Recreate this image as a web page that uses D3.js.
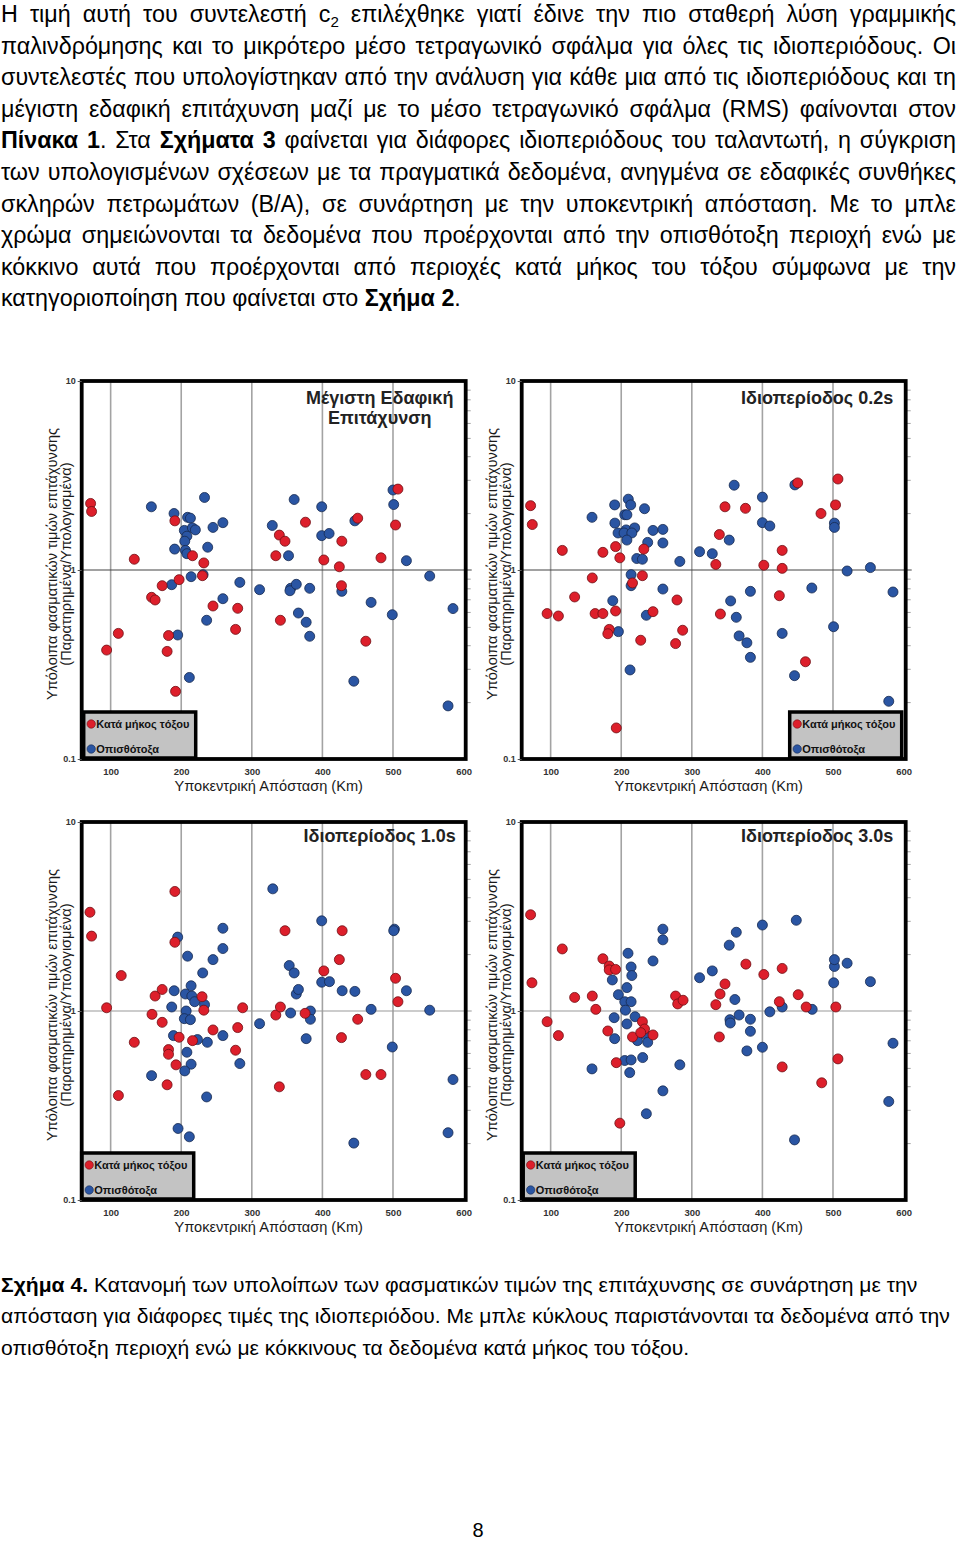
<!DOCTYPE html>
<html><head><meta charset="utf-8">
<script src="https://cdn.jsdelivr.net/npm/d3@7/dist/d3.min.js"></script>
<style>
body{margin:0;background:#fff;}
svg{display:block;font-family:"Liberation Sans",Arial,sans-serif;}
</style></head><body>
<svg id="page" width="960" height="1543"></svg>
<script>
// ---------- DATA ----------
const paragraphLines = [
  "Η τιμή αυτή του συντελεστή c₂ επιλέχθηκε γιατί έδινε την πιο σταθερή λύση γραμμικής",
  "παλινδρόμησης και το μικρότερο μέσο τετραγωνικό σφάλμα για όλες τις ιδιοπεριόδους. Οι",
  "συντελεστές που υπολογίστηκαν από την ανάλυση για κάθε μια από τις ιδιοπεριόδους και τη",
  "μέγιστη εδαφική επιτάχυνση μαζί με το μέσο τετραγωνικό σφάλμα (RMS) φαίνονται στον",
  "**Πίνακα 1**. Στα **Σχήματα 3** φαίνεται για διάφορες ιδιοπεριόδους του ταλαντωτή, η σύγκριση",
  "των υπολογισμένων σχέσεων με τα πραγματικά δεδομένα, ανηγμένα σε εδαφικές συνθήκες",
  "σκληρών πετρωμάτων (Β/Α), σε συνάρτηση με την υποκεντρική απόσταση. Με το μπλε",
  "χρώμα σημειώνονται τα δεδομένα που προέρχονται από την οπισθότοξη περιοχή ενώ με",
  "κόκκινο αυτά που προέρχονται από περιοχές κατά μήκος του τόξου σύμφωνα με την",
  "κατηγοριοποίηση που φαίνεται στο **Σχήμα 2**."
];
const captionLines = [
  "**Σχήμα 4.** Κατανομή των υπολοίπων των φασματικών τιμών της επιτάχυνσης σε συνάρτηση με την",
  "απόσταση για διάφορες τιμές της ιδιοπεριόδου. Με μπλε κύκλους παριστάνονται τα δεδομένα από την",
  "οπισθότοξη περιοχή ενώ με κόκκινους τα δεδομένα κατά μήκος του τόξου."
];
const pageNumber = "8";

const xTicks = [100, 200, 300, 400, 500, 600];
const yTicks = [0.1, 1, 10];
const yMinor = [0.2,0.3,0.4,0.5,0.6,0.7,0.8,0.9,2,3,4,5,6,7,8,9];
const xDomain = [59, 603];
const yDomain = [0.1, 10];
const xTitle = "Υποκεντρική Απόσταση (Km)";
const yTitle1 = "Υπόλοιπα φασματικών τιμών επιτάχυνσης";
const yTitle2 = "(Παρατηρημένα/Υπολογισμένα)";
const legendArc = "Κατά μήκος τόξου";
const legendBack = "Οπισθότοξα";

const panelTitles = [
  ["Μέγιστη Εδαφική", "Επιτάχυνση"],
  ["Ιδιοπερίοδος 0.2s"],
  ["Ιδιοπερίοδος 1.0s"],
  ["Ιδιοπερίοδος 3.0s"]
];

// [distance km, residual]
const pgaArc = [[71.6,2.25],[73,2.04],[133.5,1.14],[110.9,0.462],[94.3,0.377],[158,0.717],[163,0.694],[173,0.826],[191,1.82],[182,0.45],[180,0.371],[192,0.228],[197,0.889],[216,1.19],[232,1.09],[230,0.933],[245,0.645],[280,0.627],[277,0.485],[334,1.19],[339,1.53],[347,1.42],[340.5,0.542],[376,1.79],[402,1.13],[424,1.04],[427.5,1.42],[427,0.826],[450,1.88],[461.5,0.42],[483,1.16],[503.6,1.73],[507,2.68]];
const pgaBack = [[157.7,2.16],[189.8,1.99],[209,1.9],[213,1.88],[233,2.42],[204.4,1.62],[215.8,1.67],[220,1.63],[208,1.51],[205,1.42],[206,1.27],[208,1.22],[190.7,1.29],[237.5,1.32],[245,1.68],[259,1.78],[186.5,0.836],[214,0.922],[231,0.945],[195,0.453],[211.5,0.27],[236,0.542],[259,0.705],[283,0.86],[311,0.787],[329,1.72],[352,1.19],[355,0.8],[354,0.777],[363,0.84],[360,2.36],[382,0.8],[366,0.592],[377,0.529],[382,0.446],[399,2.16],[399,1.52],[409.5,1.56],[427.5,0.771],[446,1.82],[444.5,0.258],[469,0.674],[499,0.58],[500,2.65],[501,2.22],[519,1.12],[552,0.929],[585,0.625],[578,0.191]];

const t02Arc = [[71.6,2.19],[74,1.74],[116.5,1.27],[134,0.72],[95,0.588],[111,0.571],[159,0.908],[163,0.588],[174,0.588],[174,1.24],[192,1.33],[198,1.16],[192,0.607],[183,0.485],[181,0.46],[193,0.146],[216,0.854],[230,0.933],[232,1.29],[245,0.602],[227.6,0.425],[279,0.694],[287,0.48],[277,0.408],[334,1.07],[339,1.54],[347,2.16],[340.5,0.585],[376,2.12],[402,1.06],[428,1.27],[428,1.02],[424,0.731],[450,2.89],[461,0.327],[483,1.99],[503.6,2.21],[507,3.03]];
const t02Back = [[158.6,1.9],[190.7,2.21],[210,2.37],[213.4,2.21],[233,2.11],[205,1.96],[208,1.96],[191,1.77],[207,1.63],[219,1.67],[195.5,1.57],[204,1.57],[215,1.57],[208,1.44],[237.5,1.4],[245,1.62],[259,1.64],[259,1.39],[222,1.15],[230,1.14],[214,0.945],[214,0.826],[188,0.688],[196,0.472],[235.6,0.576],[212.5,0.296],[259,0.793],[283,1.11],[311,1.25],[329,1.22],[353,1.44],[360,2.81],[355,0.686],[363,0.562],[367,0.448],[378,0.412],[383,0.771],[383,0.345],[400,2.43],[400,1.78],[410.5,1.71],[428,0.462],[446,2.82],[445.5,0.276],[470,0.803],[500.8,0.501],[502,1.77],[502,1.68],[520,0.988],[553,1.03],[585,0.765],[579,0.202]];

const t10Arc = [[70.7,3.33],[73,2.49],[115,1.54],[94.3,1.04],[133.5,0.683],[111,0.357],[158.6,0.96],[163,1.2],[173,1.3],[173,0.871],[191,4.29],[191,2.31],[182,0.625],[182,0.59],[180,0.407],[192.6,0.519],[197,0.726],[216,0.697],[229.5,1.19],[232,1.01],[245,0.794],[280,0.817],[287,1.04],[277,0.62],[334,0.952],[340.5,1.05],[339,0.397],[347,2.66],[375.5,0.972],[402,1.63],[424,1.87],[428,2.66],[427,0.723],[450,0.904],[461.5,0.461],[483,0.461],[503.6,1.49],[507,1.12]];
const t10Back = [[158,0.455],[190,1.28],[186.5,1.05],[189,0.741],[195,2.46],[209,1.95],[214,1.36],[206,1.23],[215,1.2],[219,1.12],[207,1.0],[204.4,0.911],[213,0.9],[223,0.706],[208,0.605],[214,0.523],[205,0.482],[195.5,0.239],[211.5,0.216],[230.4,1.59],[233,1.08],[245,1.87],[259,2.74],[259,2.14],[237,0.683],[259,0.741],[236,0.351],[283,0.527],[311,0.857],[329.7,4.43],[353,1.74],[360,1.59],[363,1.23],[366,1.3],[355,0.976],[377,0.714],[383,1.0],[383,0.904],[399,3.0],[399,1.42],[410,1.43],[428,1.28],[446,1.27],[444.5,0.2],[469,1.02],[499,0.645],[502,2.71],[501,2.66],[519,1.28],[552,1.01],[585,0.434],[578,0.227]];

const t30Arc = [[71.6,3.23],[73.5,1.41],[116.5,2.13],[95,0.878],[111,0.741],[134,1.18],[159,1.2],[164,1.02],[174,1.89],[183,1.73],[183,1.65],[192,1.66],[181,0.784],[193,0.533],[198,0.255],[216,0.729],[230,0.878],[233,0.803],[227.6,0.768],[245,0.747],[277,1.2],[280,1.09],[287.6,1.14],[334,1.08],[340,1.23],[339,0.729],[347,1.39],[376.6,1.77],[402,1.56],[424,1.12],[428,1.68],[428,0.506],[450.7,1.22],[462,1.05],[484,0.417],[504,1.05],[507,0.558]];
const t30Back = [[158.6,0.494],[187.4,1.46],[190.7,0.714],[190,0.922],[196,1.22],[209.6,2.02],[214,1.71],[215,1.54],[208,1.33],[205,1.12],[214,1.12],[206,1.01],[208,0.854],[219.6,0.933],[223,0.697],[205,0.547],[214,0.551],[212,0.472],[230.4,0.567],[234,0.753],[237.5,0.683],[235.6,0.286],[245,1.84],[259,2.71],[259,2.38],[259,0.378],[283,0.519],[311,1.5],[329,1.63],[353,2.23],[363,2.61],[361,1.15],[367,0.952],[354,0.9],[354.5,0.864],[383,0.904],[383,0.781],[378,0.615],[400,2.85],[400,0.643],[410.5,0.99],[428,1.05],[448,3.02],[445.5,0.208],[470.5,1.02],[501,1.41],[502,1.72],[502,1.87],[520,1.79],[553,1.43],[585,0.675],[579,0.332]];

const panelArc = [pgaArc, t02Arc, t10Arc, t30Arc];
const panelBack = [pgaBack, t02Back, t10Back, t30Back];

// ---------- LAYOUT ----------
const FONT = '"Liberation Sans", Arial, sans-serif';
const svg = d3.select('#page');

function parseWords(str) {
  let bold = false;
  return str.split(' ').map(w => {
    const segs = [];
    w.split('**').forEach((p, i) => { if (i > 0) bold = !bold; if (p) segs.push({t: p, b: bold}); });
    return segs;
  });
}
function drawTextLine(str, x0, y, width, justify, size) {
  const words = parseWords(str);
  const nodes = words.map(segs => {
    const t = svg.append('text').attr('y', y).attr('font-size', size).attr('fill', '#000');
    segs.forEach(s => {
      const wt = s.b ? 'bold' : 'normal';
      if (s.t.includes('₂')) {
        const [a, b] = s.t.split('₂');
        t.append('tspan').attr('font-weight', wt).text(a);
        t.append('tspan').attr('font-weight', wt).attr('font-size', size * 0.65).attr('dy', size * 0.22).text('2');
        t.append('tspan').attr('font-weight', wt).attr('dy', -size * 0.22).text(b || '');
      } else {
        t.append('tspan').attr('font-weight', wt).text(s.t);
      }
    });
    return t;
  });
  const widths = nodes.map(n => n.node().getComputedTextLength());
  const sum = d3.sum(widths);
  const gap = justify && nodes.length > 1 ? (width - sum) / (nodes.length - 1) : size * 0.278;
  let x = x0;
  nodes.forEach((n, i) => { n.attr('x', x); x += widths[i] + gap; });
}

const PAR_SIZE = 23.3, PAR_TOP = 22, PAR_LH = 31.6;
paragraphLines.forEach((l, i) => drawTextLine(l, 1, PAR_TOP + i * PAR_LH, 955, i < paragraphLines.length - 1, PAR_SIZE));

const CAP_SIZE = 21.1, CAP_TOP = 1292, CAP_LH = 31.4;
captionLines.forEach((l, i) => drawTextLine(l, 1, CAP_TOP + i * CAP_LH, 955, false, CAP_SIZE));

svg.append('text').attr('x', 478).attr('y', 1537).attr('text-anchor', 'middle')
  .attr('font-size', 20).text(pageNumber);

// ---------- PANELS ----------
const W = 384, H = 378;
const panels = [
  {x: 81.7, y: 381, titleMode: 'center', titleX: 298, titleY: 22.5, legX: 2, hLine: '#444'},
  {x: 521.7, y: 381, titleMode: 'right', titleX: W - 12.5, titleY: 22.5, legX: W - 116, hLine: '#444'},
  {x: 81.7, y: 822, titleMode: 'right', titleX: W - 10, titleY: 20, legX: 0, hLine: '#999'},
  {x: 521.7, y: 822, titleMode: 'right', titleX: W - 12.5, titleY: 19.5, legX: 1.5, hLine: '#999'}
];
const RED = '#dd1f2b', RED_S = '#6e0f14', BLUE = '#2a55a3', BLUE_S = '#16294f';

panels.forEach((p, idx) => {
  const g = svg.append('g').attr('transform', `translate(${p.x},${p.y})`);
  const x = d3.scaleLinear().domain(xDomain).range([0, W]);
  const y = d3.scaleLog().domain(yDomain).range([H, 0]);

  // grid
  g.selectAll('line.vg').data(xTicks.filter(d => d < 600)).enter().append('line')
    .attr('x1', d => x(d)).attr('x2', d => x(d)).attr('y1', 0).attr('y2', H)
    .attr('stroke', '#a3a3a3').attr('stroke-width', 1.6);
  g.append('line').attr('x1', 0).attr('x2', W + 6).attr('y1', y(1)).attr('y2', y(1))
    .attr('stroke', p.hLine).attr('stroke-width', 1.1);

  // minor ticks (right)
  const ar = g.append('g').attr('transform', `translate(${W},0)`)
    .call(d3.axisRight(y).tickValues(yMinor).tickSize(5).tickFormat(''));
  ar.select('.domain').remove();
  ar.selectAll('line').attr('stroke', '#888').attr('stroke-width', 0.8);

  // points: blue then red
  g.selectAll('circle.b').data(panelBack[idx]).enter().append('circle')
    .attr('cx', d => x(d[0])).attr('cy', d => y(d[1])).attr('r', 5)
    .attr('fill', BLUE).attr('stroke', BLUE_S).attr('stroke-width', 0.8);
  g.selectAll('circle.r').data(panelArc[idx]).enter().append('circle')
    .attr('cx', d => x(d[0])).attr('cy', d => y(d[1])).attr('r', 5)
    .attr('fill', RED).attr('stroke', RED_S).attr('stroke-width', 0.8);

  // legend
  const lg = g.append('g').attr('transform', `translate(${p.legX},${H - 47})`);
  lg.append('rect').attr('x', 0).attr('y', 0).attr('width', 112).attr('height', 46)
    .attr('fill', '#c3c3c3').attr('stroke', '#000').attr('stroke-width', 3.5);
  lg.append('circle').attr('cx', 7.5).attr('cy', 12).attr('r', 4.2).attr('fill', RED).attr('stroke', RED_S).attr('stroke-width', 0.6);
  lg.append('text').attr('x', 12.5).attr('y', 15.8).attr('font-size', 11).attr('font-weight', 'bold').attr('fill', '#111').text(legendArc);
  lg.append('circle').attr('cx', 7.5).attr('cy', 37).attr('r', 4.2).attr('fill', BLUE).attr('stroke', BLUE_S).attr('stroke-width', 0.6);
  lg.append('text').attr('x', 12.5).attr('y', 40.8).attr('font-size', 11).attr('font-weight', 'bold').attr('fill', '#111').text(legendBack);

  // frame
  g.append('rect').attr('x', 0).attr('y', 0).attr('width', W).attr('height', H)
    .attr('fill', 'none').attr('stroke', '#000').attr('stroke-width', 3.8);

  // axes
  const ax = g.append('g').attr('transform', `translate(0,${H})`)
    .call(d3.axisBottom(x).tickValues(xTicks).tickSize(0).tickPadding(9).tickFormat(d3.format('d')));
  ax.select('.domain').remove();
  ax.selectAll('text').attr('font-size', 9.5).attr('font-weight', 'bold').attr('fill', '#333').attr('font-family', FONT);

  const ay = g.append('g')
    .call(d3.axisLeft(y).tickValues(yTicks).tickSize(4).tickPadding(2).tickFormat(d => d === 0.1 ? '0.1' : String(d)));
  ay.select('.domain').remove();
  ay.selectAll('line').attr('stroke', '#555');
  ay.selectAll('text').attr('font-size', 9).attr('font-weight', 'bold').attr('fill', '#333').attr('font-family', FONT);

  // axis titles
  g.append('text').attr('x', W / 2 - 5).attr('y', H + 32).attr('text-anchor', 'middle')
    .attr('font-size', 14.6).attr('fill', '#1a1a1a').text(xTitle);
  g.append('text').attr('transform', `translate(-25,${H / 2 - 6}) rotate(-90)`).attr('text-anchor', 'middle')
    .attr('font-size', 14.6).attr('fill', '#1a1a1a').text(yTitle1);
  g.append('text').attr('transform', `translate(-11,${H / 2 - 6}) rotate(-90)`).attr('text-anchor', 'middle')
    .attr('font-size', 14.6).attr('fill', '#1a1a1a').text(yTitle2);

  // panel title
  const tl = panelTitles[idx];
  tl.forEach((t, i) => {
    g.append('text').attr('x', p.titleX).attr('y', p.titleY + i * 20)
      .attr('text-anchor', p.titleMode === 'center' ? 'middle' : 'end')
      .attr('font-size', 18).attr('font-weight', 'bold').attr('fill', '#222').text(t);
  });
});
</script>
</body></html>
